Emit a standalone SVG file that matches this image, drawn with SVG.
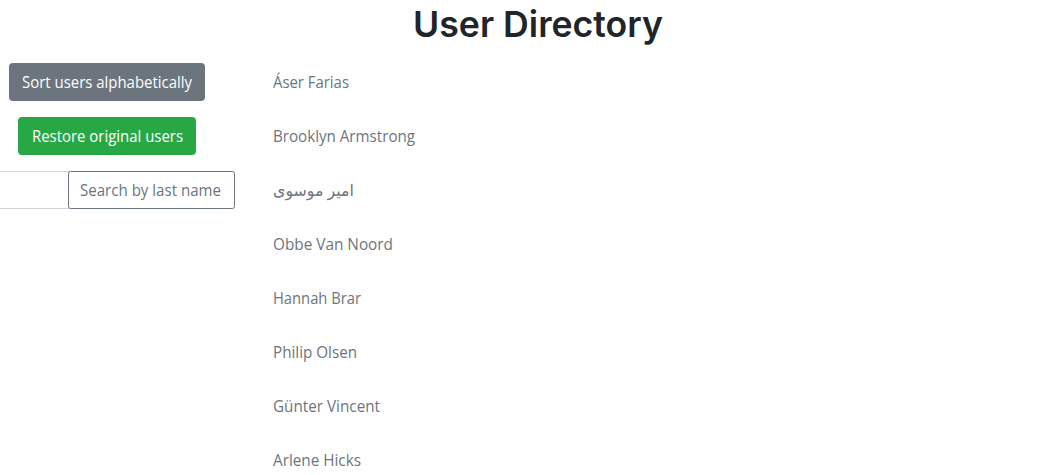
<svg xmlns="http://www.w3.org/2000/svg" width="1056" height="475" viewBox="0 0 1056 475">
<style>
  text { font-family: "Open Sans", "Noto Sans", "DejaVu Sans", sans-serif; font-size: 16px; }
  .title { font-family: Inter, "Open Sans", sans-serif; font-size: 36px; font-weight: 600; fill: #212529; }
  .btn-text { fill: #ffffff; text-anchor: middle; }
  .item { fill: #6c757d; }
  .ph { fill: #6c757d; }
</style>
<rect x="0" y="0" width="1056" height="475" fill="#ffffff"/>
<g id="title">
  <text class="title" x="538" y="37" text-anchor="middle" textLength="250" lengthAdjust="spacingAndGlyphs">User Directory</text>
</g>
<g id="sort-button">
  <rect x="9" y="63" width="196" height="38" rx="4" fill="#6c757d"/>
  <text class="btn-text" x="107" y="88" textLength="170" lengthAdjust="spacingAndGlyphs">Sort users alphabetically</text>
</g>
<g id="restore-button">
  <rect x="18" y="117" width="178" height="38" rx="4" fill="#28a745"/>
  <text class="btn-text" x="107.5" y="142" textLength="151" lengthAdjust="spacingAndGlyphs">Restore original users</text>
</g>
<g id="input-left">
  <line x1="0" y1="171.5" x2="70" y2="171.5" stroke="#ced4da" stroke-width="1"/>
  <line x1="0" y1="208.5" x2="70" y2="208.5" stroke="#ced4da" stroke-width="1"/>
</g>
<g id="search-input">
  <rect x="68.5" y="171.5" width="166" height="37" rx="2" fill="#ffffff" stroke="#6c757d" stroke-width="1"/>
  <text class="ph" x="80" y="196" textLength="141" lengthAdjust="spacingAndGlyphs">Search by last name</text>
</g>
<g id="user-list">
  <text class="item" x="273" y="88" textLength="76" lengthAdjust="spacingAndGlyphs">Áser Farias</text>
  <text class="item" x="273" y="142" textLength="142" lengthAdjust="spacingAndGlyphs">Brooklyn Armstrong</text>
  <text class="item" x="273" y="196" textLength="81" lengthAdjust="spacingAndGlyphs">امير موسوی</text>
  <text class="item" x="273" y="250" textLength="120" lengthAdjust="spacingAndGlyphs">Obbe Van Noord</text>
  <text class="item" x="273" y="304" textLength="88" lengthAdjust="spacingAndGlyphs">Hannah Brar</text>
  <text class="item" x="273" y="358" textLength="84" lengthAdjust="spacingAndGlyphs">Philip Olsen</text>
  <text class="item" x="273" y="412" textLength="107" lengthAdjust="spacingAndGlyphs">Günter Vincent</text>
  <text class="item" x="273" y="466" textLength="88" lengthAdjust="spacingAndGlyphs">Arlene Hicks</text>
</g>
<g id="connectors"></g>
</svg>
